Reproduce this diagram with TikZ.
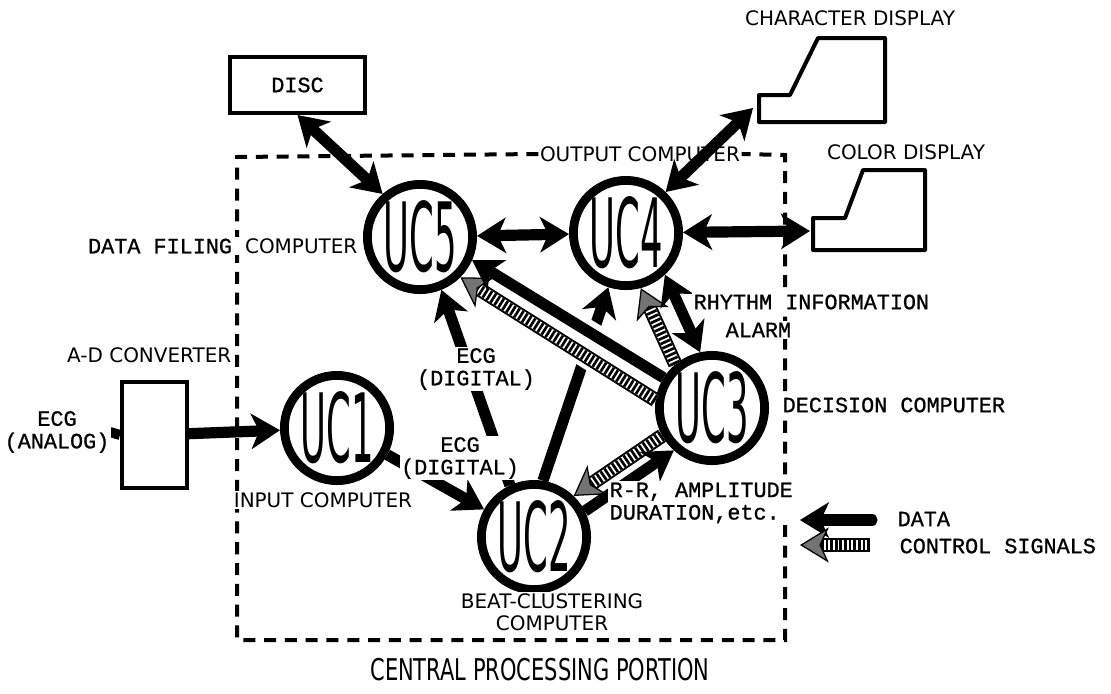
\documentclass[tikz,border=0pt]{standalone}
\usepackage{fontspec}
\usepackage{tikz}
\usetikzlibrary{arrows.meta,positioning,calc}
\setmainfont{DejaVu Sans}
\newfontfamily\typew[FakeBold=0.9]{Liberation Mono}
\newfontfamily\letterf{DejaVu Sans}
\newfontfamily\narrowf[FakeStretch=0.7]{DejaVu Sans}
\newfontfamily\ucf[FakeStretch=0.37]{DejaVu Sans}
\newcommand{\twsize}{\typew\fontsize{15.5}{16}\selectfont}
\newcommand{\ltsize}{\letterf\fontsize{14.2}{15.5}\selectfont}
\tikzset{
  unit/.style={circle, draw, line width=0.22cm, minimum size=2.63cm, inner sep=0pt,
               font=\ucf\fontsize{68}{68}\selectfont},
  tw/.style={font=\twsize, inner sep=1pt, fill=white, align=center},
  lt/.style={font=\ltsize, inner sep=1pt, fill=white, align=center},
  box/.style={draw, line width=0.1cm, inner sep=0pt},
  screen/.style={draw, line width=0.1cm, line join=round},
  dashbox/.style={line width=0.1cm, dash pattern=on 0.3cm off 0.22cm},
  data/.style={line width=0.28cm, -{Stealth[length=0.72cm, width=0.88cm, inset=0.2cm]}},
  both/.style={line width=0.28cm,
               {Stealth[length=0.72cm, width=0.88cm, inset=0.2cm]}-{Stealth[length=0.72cm, width=0.88cm, inset=0.2cm]}},
  % hatched arrow: outline, white core, then stripes
  ctrl/.style={
    preaction={draw, arrows=-, line width=0.36cm, shorten >=0.55cm},
    preaction={draw=white, arrows=-, line width=0.26cm, shorten >=0.55cm},
    line width=0.26cm, dash pattern=on 1.9pt off 1.4pt,
    -{Stealth[length=0.72cm, width=0.88cm, inset=0.2cm, fill=black!55, line width=0.9pt]}},
  gap/.style={preaction={draw=white, arrows=-, line width=0.58cm,
                         shorten >=0.7cm, shorten <=0.15cm}},
}
\begin{document}
\begin{tikzpicture}[x=0.025cm, y=-0.025cm]
  \useasboundingbox (0,0) rectangle (1111,693);

  % central processing portion
  \node[lt] (out) at (640,154) {OUTPUT COMPUTER};
  \draw[dashbox] (out.west) -- (237,157) -- (237,640) -- (785,640) -- (785,155) -- (out.east);

  % peripherals
  \node[box, minimum width=3.375cm, minimum height=1.4cm,
        font=\twsize] (disc) at (297.5,85) {DISC};
  \node[box, minimum width=1.625cm, minimum height=2.65cm] (adc) at (154.5,435) {};
  \draw[screen] (759,122) -- (759,95) -- (790,95) -- (818,38) -- (885,38) -- (885,122) -- cycle;
  \draw[screen] (813,250) -- (813,218) -- (845,218) -- (863,170) -- (925,170) -- (925,250) -- cycle;
  \coordinate (chrdisp) at (753,108);
  \coordinate (coldisp) at (810,231);

  % micro computers
  \node[unit] (uc1) at (337,428) {UC1};
  \node[unit] (uc2) at (534,537) {UC2};
  \node[unit] (uc3) at (712,408) {UC3};
  \node[unit] (uc4) at (626,233) {UC4};
  \node[unit] (uc5) at (420,237) {UC5};

  \draw[line width=0.25cm] (adc.west) -- ++(-10,-3);
  \draw[data] (adc) -- (uc1);
  \draw[both] (disc.south) -- (uc5.131);
  \draw[both] (uc5) -- (uc4);
  \draw[both] (uc4.46) -- (chrdisp);
  \draw[both] (uc4) -- (coldisp);
  \draw[data] (uc1.-28) -- (uc2.151);
  \draw[data] (uc2.115) -- (uc5.-68);
  \draw[data] (uc2.81) -- (uc4.-108);
  \draw[gap, ctrl] (uc3.172) -- (uc5.-45);
  \draw[gap, data] (uc3.148) -- (uc5.-24);
  \draw[ctrl] (uc3.130) -- (uc4.-75);
  \draw[both] (uc4.-47) -- (uc3.102);
  \draw[ctrl] (uc3.209) -- (uc2.46);
  \draw[data] (uc2.27) -- (uc3.228);

  % labels
  \node[lt] (chrlbl) at (850,18) {CHARACTER DISPLAY};
  \node[lt] (collbl) at (906,152) {COLOR DISPLAY};
  \node[tw, anchor=east] (filing) at (359,246) {DATA FILING {\ltsize COMPUTER}};
  \node[lt, anchor=east] (adlbl) at (233,355) {A-D CONVERTER};
  \node[tw] (analog) at (57,432) {ECG\\(ANALOG)};
  \node[lt] (inlbl) at (323,500) {INPUT COMPUTER};
  \node[tw] (dig1) at (460,458) {ECG\\(DIGITAL)};
  \node[tw] (dig2) at (476,369) {ECG\\(DIGITAL)};
  \node[tw, anchor=west] (rhythm) at (692,302) {RHYTHM INFORMATION};
  \node[tw, anchor=west] (alarm) at (724,330) {ALARM};
  \node[tw, anchor=west] (declbl) at (781,405) {DECISION COMPUTER};
  \node[tw, anchor=west, align=left] (rr) at (608,503) {R-R, AMPLITUDE\\DURATION,etc.};
  \node[lt] (beat) at (552,612) {BEAT-CLUSTERING\\COMPUTER};
  \node[font=\narrowf\fontsize{21.3}{22}\selectfont] (cpp) at (540,670) {CENTRAL PROCESSING PORTION};

  % legend
  \node[tw, anchor=west] (datakey) at (896,519) {DATA};
  \node[tw, anchor=west] (ctrlkey) at (898,546) {CONTROL SIGNALS};
  \coordinate (datatail) at (872,520);
  \coordinate (datahead) at (800,520);
  \coordinate (ctrltail) at (870,545);
  \coordinate (ctrlhead) at (800,545);
  \draw[data, line cap=round] (datatail) -- (datahead);
  \draw[ctrl] (ctrltail) -- (ctrlhead);
\end{tikzpicture}
\end{document}
